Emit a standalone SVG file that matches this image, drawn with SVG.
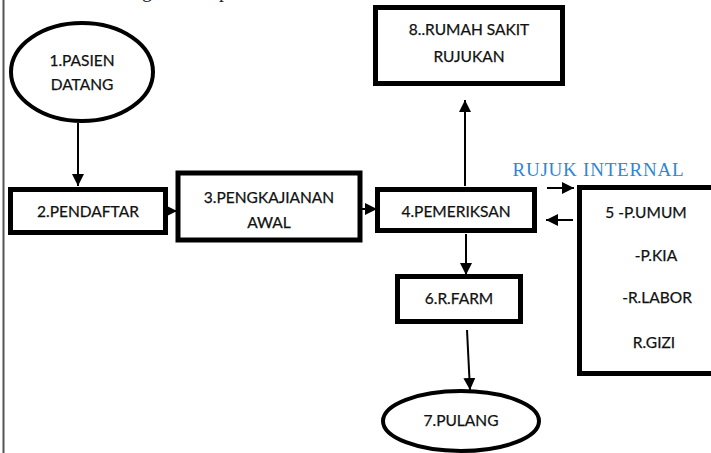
<svg xmlns="http://www.w3.org/2000/svg" width="711" height="453" viewBox="0 0 711 453">
<defs>
<marker id="ah" markerUnits="userSpaceOnUse" markerWidth="14" markerHeight="12" refX="12" refY="6" orient="auto">
<path d="M0,0 L12,6 L0,12 Z" fill="#000"/>
</marker>
<style>
.box{fill:#fff;stroke:#000;stroke-width:5}
.t{font-family:Lato,"Open Sans",sans-serif;font-size:15.5px;fill:#111;text-anchor:middle;stroke:#111;stroke-width:0.25}
.c{stroke:#000;stroke-width:2;fill:none;marker-end:url(#ah)}
</style>
</defs>
<rect width="711" height="453" fill="#fff"/>
<line x1="3.5" y1="0" x2="3.5" y2="453" stroke="#555" stroke-width="2"/>
<text x="142" y="-3" font-family="Liberation Serif,serif" font-size="20" fill="#222">g</text>
<text x="219" y="-3" font-family="Liberation Serif,serif" font-size="20" fill="#222">p</text>

<g id="connectors">
<line class="c" x1="78" y1="123" x2="78" y2="186"/>
<line class="c" x1="167" y1="211" x2="177" y2="211"/>
<line class="c" x1="362" y1="209" x2="377" y2="209"/>
<line class="c" x1="465" y1="186" x2="465" y2="100"/>
<line class="c" x1="466" y1="234" x2="466" y2="275"/>
<line class="c" x1="467" y1="330" x2="470" y2="390"/>
<line class="c" x1="547" y1="188" x2="574" y2="188"/>
<line class="c" x1="573" y1="220" x2="546" y2="220"/>
</g>

<g id="n1">
<ellipse cx="82" cy="72" rx="71" ry="49" fill="#fff" stroke="#000" stroke-width="4"/>
<text class="t" x="82" y="66">1.PASIEN</text>
<text class="t" x="82" y="90">DATANG</text>
</g>
<g id="n2">
<rect class="box" x="10.5" y="189.5" width="155" height="43"/>
<text class="t" x="88" y="217">2.PENDAFTAR</text>
</g>
<g id="n3">
<rect class="box" x="178" y="173" width="182" height="67" stroke-width="6"/>
<text class="t" x="269" y="203">3.PENGKAJIANAN</text>
<text class="t" x="269" y="228">AWAL</text>
</g>
<g id="n4">
<rect class="box" x="377.5" y="189.5" width="157" height="41"/>
<text class="t" x="456" y="217">4.PEMERIKSAN</text>
</g>
<g id="n8">
<rect class="box" x="375.5" y="7.5" width="187" height="76"/>
<text class="t" x="469" y="35">8..RUMAH SAKIT</text>
<text class="t" x="469" y="62">RUJUKAN</text>
</g>
<g id="n5">
<rect class="box" x="579.5" y="187.5" width="140" height="186"/>
<text class="t" x="646" y="218">5 -P.UMUM</text>
<text class="t" x="656" y="261">-P.KIA</text>
<text class="t" x="657" y="303">-R.LABOR</text>
<text class="t" x="654" y="348">R.GIZI</text>
</g>
<text x="598" y="176" font-family="Liberation Serif,serif" font-size="19" fill="#2e86d4" text-anchor="middle" textLength="171">RUJUK INTERNAL</text>
<g id="n6">
<rect class="box" x="397.5" y="276.5" width="123" height="45"/>
<text class="t" x="459" y="304">6.R.FARM</text>
</g>
<g id="n7">
<ellipse cx="461" cy="421" rx="78" ry="30" fill="#fff" stroke="#000" stroke-width="4"/>
<text class="t" x="461" y="426">7.PULANG</text>
</g>
</svg>
